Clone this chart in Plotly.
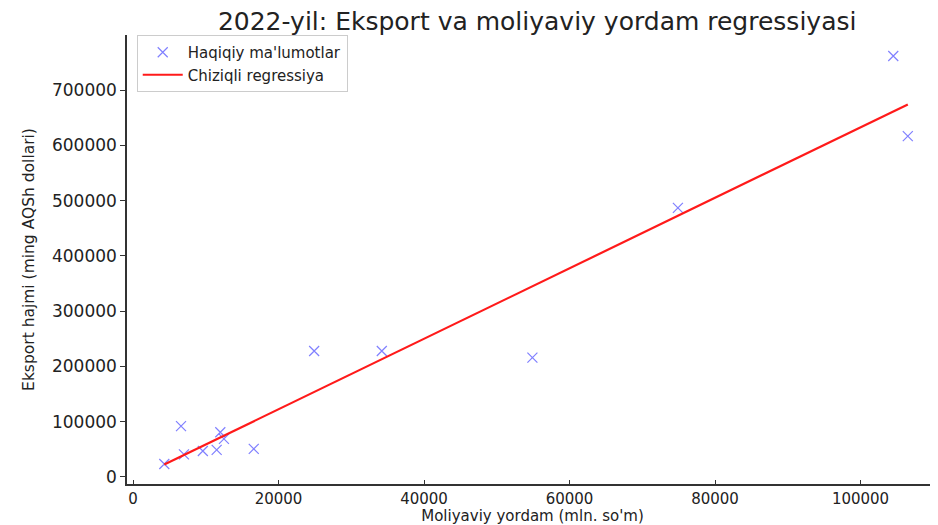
import numpy as np
import plotly.graph_objects as go

# Moliyaviy yordam (mln. so'm)
aid = [4300, 6600, 7000, 9600, 11500, 12000, 12500, 16600, 24900, 34200, 54900, 74900, 104500, 106500]
# Eksport hajmi (ming AQSh dollari)
export = [23500, 92000, 41000, 47000, 49000, 81000, 69000, 51000, 228000, 228000, 216000, 487000, 762000, 617000]

x_ticks = [0, 20000, 40000, 60000, 80000, 100000]
y_ticks = [0, 100000, 200000, 300000, 400000, 500000, 600000, 700000]

slope, intercept = np.polyfit(aid, export, 1)
x_line = [min(aid), max(aid)]
y_line = [slope * v + intercept for v in x_line]

fig = go.Figure()
fig.add_trace(go.Scatter(
    x=aid, y=export, mode="markers", name="Haqiqiy ma'lumotlar",
    marker=dict(symbol="x-thin", size=10, line=dict(width=1.2, color="rgba(60,60,255,0.65)"),
                color="rgba(60,60,255,0.65)"),
))
fig.add_trace(go.Scatter(
    x=x_line, y=y_line, mode="lines", name="Chiziqli regressiya",
    line=dict(color="#ff1a1a", width=2.2),
))

font = "DejaVu Sans, sans-serif"
fig.update_layout(
    width=930, height=517,
    margin=dict(l=119, r=0, t=27, b=41, autoexpand=False),
    paper_bgcolor="white", plot_bgcolor="white",
    font=dict(family=font, color="#222"),
    title=dict(text="2022-yil: Eksport va moliyaviy yordam regressiyasi",
               x=0.569, xanchor="center", y=0.975, yanchor="middle",
               font=dict(size=25, family=font, color="#222")),
    legend=dict(x=0.012, y=1.0, xanchor="left", yanchor="top",
                bgcolor="rgba(255,255,255,0.9)", bordercolor="#cccccc", borderwidth=1,
                font=dict(size=15, family=font, color="#222"),
                tracegroupgap=0, itemwidth=40),
    showlegend=True,
)
fig.update_xaxes(
    range=[-825, 110650], tickvals=x_ticks, ticktext=[str(v) for v in x_ticks],
    showgrid=False, zeroline=False, showline=True, linecolor="#333", linewidth=1.5,
    ticks="inside", ticklen=4, tickcolor="#333", automargin=False,
    tickfont=dict(size=15, family=font, color="#222"),
    title=dict(text="Moliyaviy yordam (mln. so'm)", font=dict(size=15, family=font, color="#222"), standoff=2),
)
fig.update_yaxes(
    range=[-12700, 800000], tickvals=y_ticks, ticktext=[str(v) for v in y_ticks],
    showgrid=False, zeroline=False, showline=True, linecolor="#333", linewidth=1.5,
    ticks="outside", ticklen=5, tickcolor="#333", automargin=False,
    tickfont=dict(size=17, family=font, color="#222"),
    title=dict(text="Eksport hajmi (ming AQSh dollari)", font=dict(size=15.5, family=font, color="#222"), standoff=14),
)
fig.write_html("out.html")
